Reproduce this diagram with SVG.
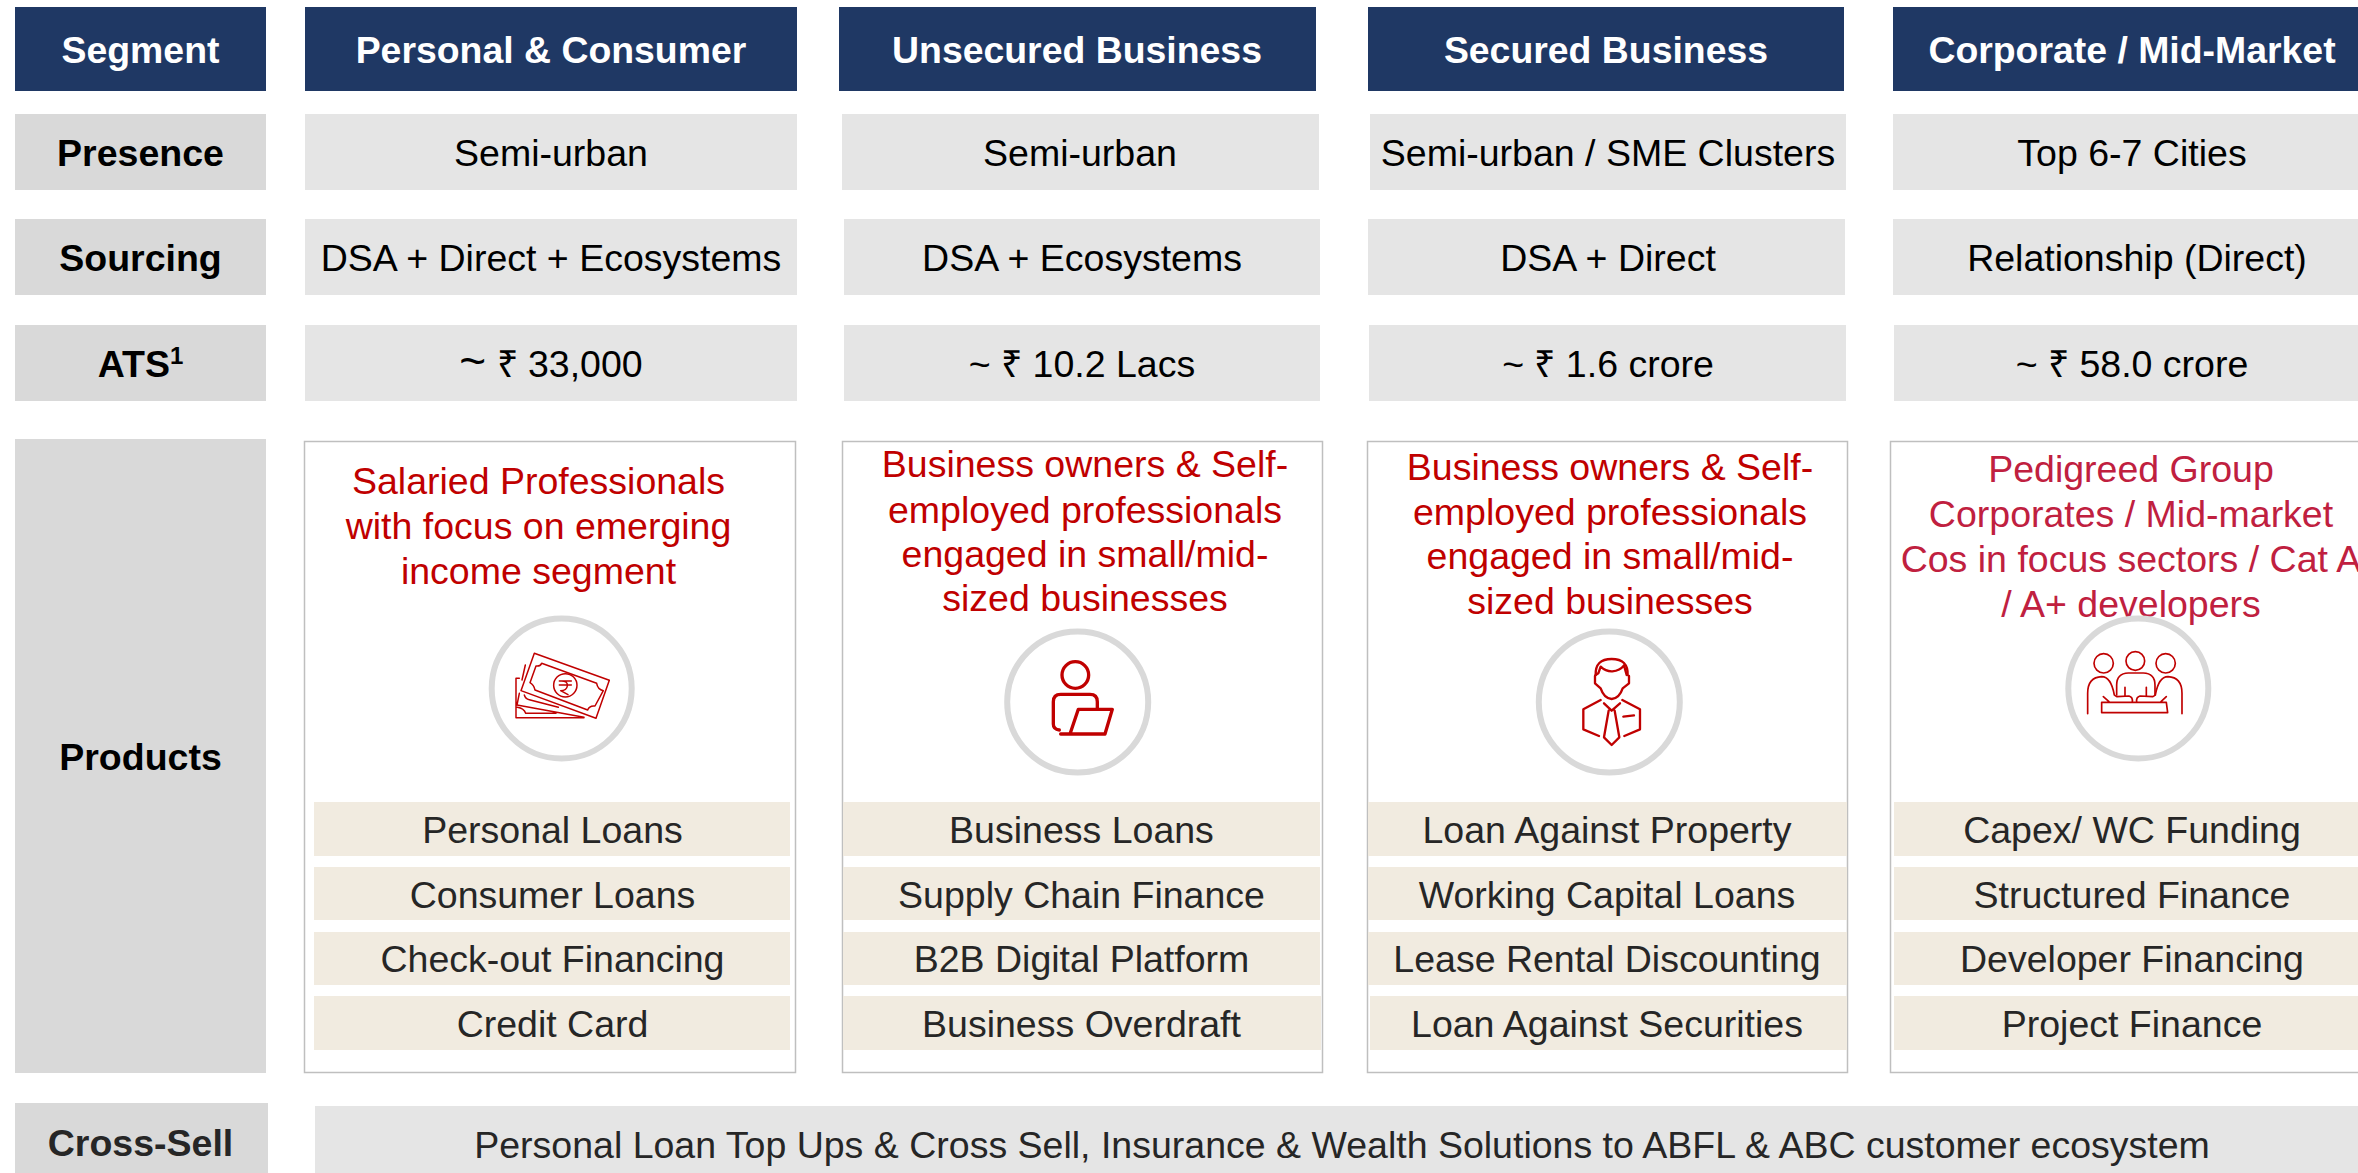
<svg xmlns="http://www.w3.org/2000/svg" width="2358" height="1173" viewBox="0 0 2358 1173">
<style>
text{font-family:"Liberation Sans",Arial,sans-serif;text-anchor:middle;font-size:37.500px}
.navy{fill:#1F3864}
.lab{fill:#D9D9D9}
.cell{fill:#E5E5E5}
.card{fill:#fff;stroke:#BFBFBF;stroke-width:1.5}
.prod{fill:#F1EBE0}
.ring{fill:#fff;stroke:#D9D9D9;stroke-width:6}
.h{fill:#fff;font-weight:700;font-size:37.400px}
.b{fill:#000;font-weight:700}
.t{fill:#000}
.p{fill:#262626}
.r{fill:#C00000}
.r2{fill:#C0203F}
.ic{fill:none;stroke:#C00000;stroke-linejoin:round;stroke-linecap:round}
</style>
<rect width="2358" height="1173" fill="#fff"/>
<g id="row-segment">
<rect class="navy" x="15" y="7" width="251" height="84"/><text class="h" x="140.500" y="63">Segment</text>
<rect class="navy" x="305" y="7" width="492" height="84"/><text class="h" x="551" y="63">Personal &amp; Consumer</text>
<rect class="navy" x="839" y="7" width="477" height="84"/><text class="h" x="1077" y="63">Unsecured Business</text>
<rect class="navy" x="1368" y="7" width="476" height="84"/><text class="h" x="1606" y="63">Secured Business</text>
<rect class="navy" x="1893" y="7" width="465" height="84"/><text class="h" x="2132" y="63">Corporate / Mid-Market</text>
</g>
<g id="row-presence">
<rect class="lab" x="15" y="114" width="251" height="76"/><text class="b" x="140.500" y="166">Presence</text>
<rect class="cell" x="305" y="114" width="492" height="76"/><text class="t" x="551" y="166">Semi-urban</text>
<rect class="cell" x="842" y="114" width="477" height="76"/><text class="t" x="1080" y="166">Semi-urban</text>
<rect class="cell" x="1370" y="114" width="476" height="76"/><text class="t" x="1608" y="166">Semi-urban / SME Clusters</text>
<rect class="cell" x="1893" y="114" width="465" height="76"/><text class="t" x="2132" y="166">Top 6-7 Cities</text>
</g>
<g id="row-sourcing">
<rect class="lab" x="15" y="219" width="251" height="76"/><text class="b" x="140.500" y="271">Sourcing</text>
<rect class="cell" x="305" y="219" width="492" height="76"/><text class="t" x="551" y="271">DSA + Direct + Ecosystems</text>
<rect class="cell" x="844" y="219" width="476" height="76"/><text class="t" x="1082" y="271">DSA + Ecosystems</text>
<rect class="cell" x="1368" y="219" width="477" height="76"/><text class="t" x="1608" y="271">DSA + Direct</text>
<rect class="cell" x="1893" y="219" width="465" height="76"/><text class="t" x="2137" y="271">Relationship (Direct)</text>
</g>
<g id="row-ats">
<rect class="lab" x="15" y="325" width="251" height="76"/><text class="b" x="140.500" y="377">ATS<tspan font-size="24" dy="-13">1</tspan></text>
<rect class="cell" x="305" y="325" width="492" height="76"/><text class="t" x="551" y="377"><tspan font-size="46">~</tspan> ₹ 33,000</text>
<rect class="cell" x="844" y="325" width="476" height="76"/><text class="t" x="1082" y="377">~ ₹ 10.2 Lacs</text>
<rect class="cell" x="1369" y="325" width="477" height="76"/><text class="t" x="1608" y="377">~ ₹ 1.6 crore</text>
<rect class="cell" x="1894" y="325" width="464" height="76"/><text class="t" x="2132" y="377">~ ₹ 58.0 crore</text>
</g>
<g id="label-products">
<rect class="lab" x="15" y="439" width="251" height="634"/><text class="b" x="140.500" y="770">Products</text>
</g>
<g id="card-personal">
<rect class="card" x="304.500" y="441.500" width="491" height="631"/>
<text class="r" x="538.500" y="494">Salaried Professionals</text>
<text class="r" x="538.500" y="539">with focus on emerging</text>
<text class="r" x="538.500" y="584">income segment</text>
<circle class="ring" cx="561.700" cy="688.500" r="70"/>
<g class="ic" stroke-width="4.500" transform="translate(480 600) scale(.3333)">
<path d="M163,160 L388,241 L348,355 L123,272 Z"/>
<path d="M185,190 L350,250 Q353,268 370,272 L345,318 Q328,316 323,330 L165,270 Q162,255 150,248 L168,198 Q180,200 185,190 Z"/>
<circle cx="256" cy="256" r="35"/>
<path d="M238,243 H274 M238,255 H274 M240,243 Q264,241 262,258 Q260,272 242,272 L264,284"/>
<path d="M136,195 L126,240 M118,235 H108 V353 H312 M118,280 L111,315 L312,352 M133,285 Q136,297 148,299 L235,322 M112,322 Q132,325 137,340 H228"/>
</g>
<rect class="prod" x="314" y="802" width="476" height="54"/><text class="p" x="552.500" y="843">Personal Loans</text>
<rect class="prod" x="314" y="867" width="476" height="53"/><text class="p" x="552.500" y="908">Consumer Loans</text>
<rect class="prod" x="314" y="932" width="476" height="53"/><text class="p" x="552.500" y="972">Check-out Financing</text>
<rect class="prod" x="314" y="996" width="476" height="54"/><text class="p" x="552.500" y="1037">Credit Card</text>
</g>
<g id="card-unsecured">
<rect class="card" x="842.500" y="441.500" width="480" height="631"/>
<text class="r" x="1085" y="477">Business owners &amp; Self-</text>
<text class="r" x="1085" y="523">employed professionals</text>
<text class="r" x="1085" y="567">engaged in small/mid-</text>
<text class="r" x="1085" y="611">sized businesses</text>
<circle class="ring" cx="1077.700" cy="702" r="70.500"/>
<g class="ic" stroke-width="10" transform="translate(1000 620) scale(.3333)">
<circle cx="226" cy="165" r="40"/>
<path d="M178,330 Q160,328 160,312 V245 Q160,223 182,223 H270 Q292,223 292,245 V265"/>
<path d="M210,342 L235,268 H337 L315,342 H182"/>
</g>
<rect class="prod" x="843" y="802" width="477" height="54"/><text class="p" x="1081.500" y="843">Business Loans</text>
<rect class="prod" x="843" y="867" width="477" height="53"/><text class="p" x="1081.500" y="908">Supply Chain Finance</text>
<rect class="prod" x="843" y="932" width="477" height="53"/><text class="p" x="1081.500" y="972">B2B Digital Platform</text>
<rect class="prod" x="843" y="996" width="478" height="54"/><text class="p" x="1081.500" y="1037">Business Overdraft</text>
</g>
<g id="card-secured">
<rect class="card" x="1367.500" y="441.500" width="480" height="631"/>
<text class="r" x="1610" y="480">Business owners &amp; Self-</text>
<text class="r" x="1610" y="525">employed professionals</text>
<text class="r" x="1610" y="569">engaged in small/mid-</text>
<text class="r" x="1610" y="614">sized businesses</text>
<circle class="ring" cx="1609.300" cy="702" r="70.500"/>
<g class="ic" stroke-width="7" transform="translate(1530 620) scale(.3333)">
<path d="M197,165 Q195,117 245,117 Q295,117 293,165"/>
<path d="M197,165 L205,160 L212,140 Q228,155 247,154 Q270,152 282,136 L290,165"/>
<path d="M195,168 V190 L212,205 Q222,235 245,237 Q268,235 278,205 L297,190 V168"/>
<path d="M212,240 L160,268 V328 L207,348 M277,240 L330,268 V328 L283,348"/>
<path d="M222,250 L245,272 L270,250 M236,272 L222,352 L245,375 L268,352 L254,272"/>
<path d="M280,290 L312,286"/>
</g>
<rect class="prod" x="1368" y="802" width="479" height="54"/><text class="p" x="1607" y="843">Loan Against Property</text>
<rect class="prod" x="1368" y="867" width="479" height="53"/><text class="p" x="1607" y="908">Working Capital Loans</text>
<rect class="prod" x="1368" y="932" width="479" height="53"/><text class="p" x="1607" y="972">Lease Rental Discounting</text>
<rect class="prod" x="1370" y="996" width="477" height="54"/><text class="p" x="1607" y="1037">Loan Against Securities</text>
</g>
<g id="card-corporate">
<rect class="card" x="1890.500" y="441.500" width="480" height="631"/>
<text class="r2" x="2131" y="482">Pedigreed Group</text>
<text class="r2" x="2131" y="527">Corporates / Mid-market</text>
<text class="r2" x="2131" y="572">Cos in focus sectors / Cat A</text>
<text class="r2" x="2131" y="617">/ A+ developers</text>
<circle cx="2138.300" cy="688.500" r="70" fill="none" stroke="#D9D9D9" stroke-width="6"/>
<g class="ic" stroke-width="5" transform="translate(2055 610) scale(.3333)">
<circle cx="146" cy="160" r="29"/>
<circle cx="241" cy="153" r="28"/>
<circle cx="332" cy="160" r="29"/>
<path d="M98,311 V250 Q98,202 140,200 Q168,200 178,255 Q181,258 186,260 L222,258 Q234,261 232,276"/>
<path d="M381,311 V250 Q381,202 339,200 Q311,200 301,255 Q298,258 293,260 L255,258 Q243,261 245,276"/>
<path d="M185,255 V225 Q185,190 220,189 H265 Q300,190 300,225 V255 M210,232 V258 M274,232 V258"/>
<path d="M140,277 H334 L338,308 H140 Z M145,260 L162,275 M334,260 L318,275"/>
</g>
<rect class="prod" x="1894" y="802" width="464" height="54"/><text class="p" x="2132" y="843">Capex/ WC Funding</text>
<rect class="prod" x="1894" y="867" width="464" height="53"/><text class="p" x="2132" y="908">Structured Finance</text>
<rect class="prod" x="1894" y="932" width="464" height="53"/><text class="p" x="2132" y="972">Developer Financing</text>
<rect class="prod" x="1894" y="996" width="464" height="54"/><text class="p" x="2132" y="1037">Project Finance</text>
</g>
<g id="row-cross-sell">
<rect class="lab" x="15" y="1103" width="253" height="70"/><text class="b" x="140.500" y="1156" style="fill:#262626">Cross-Sell</text>
<rect class="cell" x="315" y="1106" width="2043" height="67"/><text class="p" x="1342" y="1158">Personal Loan Top Ups &amp; Cross Sell, Insurance &amp; Wealth Solutions to ABFL &amp; ABC customer ecosystem</text>
</g>
<g id="connectors"></g>
</svg>
